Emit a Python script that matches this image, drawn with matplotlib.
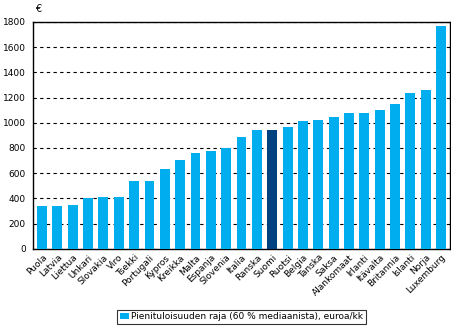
import numpy as np
import matplotlib.pyplot as plt

maat = ['Puola', 'Latvia', 'Liettua', 'Unkari', 'Slovakia', 'Viro', 'Tsekki',
        'Portugali', 'Kypros', 'Kreikka', 'Malta', 'Espanja', 'Slovenia',
        'Italia', 'Ranska', 'Suomi', 'Ruotsi', 'Belgia', 'Tanska', 'Saksa',
        'Alankomaat', 'Irlanti', 'Itävalta', 'Britannia', 'Islanti', 'Norja',
        'Luxemburg']
raja = [338, 338, 347, 402, 410, 410, 537, 537, 630, 701, 759, 780, 796,
        886, 939, 939, 966, 1011, 1019, 1042, 1074, 1074, 1098, 1146, 1233,
        1257, 1765]
korostus = 'Suomi'

vaalea = '#00AEEF'
tumma = '#00427F'

plt.rcParams['font.family'] = 'DejaVu Sans'
plt.rcParams['font.size'] = 6.5

fig = plt.figure(figsize=(4.51, 3.27), dpi=100)
ax = fig.add_axes([0.073, 0.239, 0.925, 0.694])

x = np.arange(len(maat))
varit = [tumma if m == korostus else vaalea for m in maat]
ax.bar(x, raja, width=0.65, color=varit, zorder=3,
       label='Pienituloisuuden raja (60 % mediaanista), euroa/kk')

ax.set_xlim(-0.6, len(maat) - 0.4)
ax.set_ylim(0, 1800)
ax.set_yticks(np.arange(0, 1801, 200))
ax.yaxis.grid(True, color='black', linestyle=(0, (3, 3)), linewidth=0.8, zorder=1)
ax.tick_params(axis='y', length=0, pad=5)
ax.tick_params(axis='x', length=0, pad=3)
ax.set_xticks(x)
ax.set_xticklabels(maat, rotation=45, ha='right', rotation_mode='anchor')
for s in ax.spines.values():
    s.set_linewidth(1.0)

fig.text(0.085, 0.972, '€', ha='center', va='center', fontsize=7)

leg = ax.legend(loc='lower center', bbox_to_anchor=(0.5, -0.33), ncol=1,
                frameon=True, fancybox=False, edgecolor='black',
                handlelength=1.0, handleheight=0.7, borderpad=0.25,
                handletextpad=0.3, borderaxespad=0)
leg.get_frame().set_linewidth(0.8)

fig.savefig('out.png', dpi=100)
